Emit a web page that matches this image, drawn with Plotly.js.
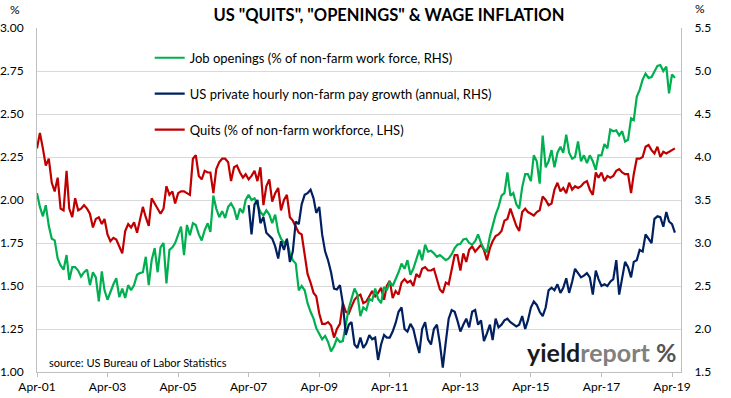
<!DOCTYPE html>
<html>
<head>
<meta charset="utf-8">
<script src="https://cdn.plot.ly/plotly-3.0.1.min.js"></script>
<style>html,body{margin:0;padding:0;background:#fff;}#chart{width:731px;height:398px;}</style>
</head>
<body>
<div id="chart"></div>
<script>
// Monthly series, first value = Apr 2001
const startMonth = '2001-04';

// Job openings (% of non-farm work force, RHS), Apr 2001 onwards
const openings = [
3.58,3.42,3.31,3.44,3.20,3.05,3.03,2.82,2.74,2.69,2.86,2.57,2.72,2.72,2.68,2.61,2.66,2.69,2.51,2.66,
2.60,2.32,2.67,2.45,2.34,2.44,2.52,2.59,2.37,2.47,2.36,2.51,2.45,2.51,2.63,2.65,2.66,2.84,2.51,2.80,
2.94,2.66,2.95,3.00,2.53,2.92,2.95,3.00,3.10,3.19,2.86,3.21,3.09,3.23,3.21,3.10,3.03,3.15,3.23,3.13,
3.55,3.40,3.30,3.37,3.29,3.42,3.46,3.40,3.27,3.40,3.35,3.50,3.56,3.50,3.52,3.44,3.36,3.32,3.38,3.33,
3.23,3.33,3.13,3.05,3.00,3.03,2.88,2.80,2.76,2.45,2.50,2.45,2.30,2.20,2.12,2.01,1.95,1.88,1.92,1.85,
1.74,1.80,1.89,1.85,1.86,2.07,2.24,2.35,2.47,2.40,2.15,2.25,2.22,2.35,2.33,2.47,2.35,2.30,2.49,2.45,
2.55,2.50,2.58,2.66,2.76,2.70,2.80,2.63,2.70,2.82,2.92,2.80,2.98,2.90,2.91,2.88,2.84,2.86,2.83,2.80,
2.82,2.87,2.94,2.98,2.99,3.04,3.05,3.00,2.98,3.02,3.10,3.00,2.93,2.90,3.08,3.20,3.33,3.42,3.55,3.58,
3.82,3.55,3.58,3.45,3.40,3.65,3.80,3.80,3.72,4.02,3.95,3.69,4.25,3.88,3.95,4.08,3.88,4.05,4.12,4.05,
4.26,4.05,3.98,4.00,4.18,3.95,4.02,3.93,4.02,3.95,3.85,4.02,4.02,4.15,4.10,4.32,4.30,4.31,4.25,4.30,
4.18,4.20,4.45,4.43,4.70,4.78,4.90,4.97,4.92,4.93,5.00,5.06,5.07,5.00,5.05,4.74,4.96,4.92
];

// US private hourly non-farm pay growth (annual, RHS), starts Apr 2007
const wageStartMonth = '2007-04';
const wages = [
3.44,3.10,3.45,3.50,3.23,3.30,3.12,3.08,3.05,2.96,2.82,3.02,2.92,3.05,2.78,2.90,3.25,3.22,3.45,3.56,
3.58,3.62,3.52,3.35,3.42,3.10,2.90,2.80,2.66,2.47,2.46,2.51,2.30,1.93,2.05,2.08,1.82,1.78,1.90,1.78,
1.83,1.93,1.88,1.90,1.64,1.82,1.93,1.90,1.90,1.97,2.07,2.20,2.25,2.00,1.97,2.06,2.00,1.85,1.72,2.00,
2.08,1.88,1.82,2.00,2.05,1.83,1.55,1.85,2.12,2.22,2.20,2.10,1.97,2.05,2.12,2.02,2.20,2.22,2.05,2.10,
1.86,1.95,2.05,1.87,2.12,2.02,2.05,2.10,2.12,2.08,2.05,2.03,2.05,2.15,2.00,2.10,2.25,2.32,2.28,2.20,
2.15,2.25,2.45,2.48,2.45,2.52,2.42,2.48,2.59,2.42,2.55,2.70,2.65,2.60,2.62,2.65,2.60,2.40,2.68,2.58,
2.50,2.52,2.50,2.55,2.58,2.80,2.40,2.60,2.78,2.72,2.60,2.78,2.80,2.92,2.90,3.10,3.05,3.00,3.28,3.31,
3.30,3.19,3.36,3.25,3.22,3.12
];

// Quits (% of non-farm workforce, LHS), Apr 2001 onwards
const quits = [
2.30,2.39,2.30,2.20,2.24,2.10,2.05,2.13,1.95,1.94,2.17,1.95,1.90,2.01,1.94,1.95,1.97,1.95,1.92,1.84,
1.89,1.90,1.86,1.89,1.80,1.76,1.78,1.77,1.73,1.69,1.82,1.86,1.84,1.87,1.81,1.89,1.96,1.90,1.85,2.01,
1.98,1.95,1.92,1.95,2.08,2.03,2.05,1.98,2.04,2.05,2.05,2.04,2.03,2.24,2.26,2.14,2.12,2.17,2.16,2.16,
2.04,2.18,2.22,2.24,2.24,2.22,2.11,2.19,2.20,2.16,2.13,2.15,2.12,2.14,2.17,2.11,2.19,1.97,2.08,2.12,
1.99,2.04,2.07,1.94,2.00,2.03,1.90,1.88,1.84,1.81,1.80,1.68,1.57,1.52,1.46,1.44,1.34,1.28,1.28,1.29,
1.27,1.20,1.25,1.28,1.40,1.35,1.34,1.38,1.42,1.44,1.45,1.40,1.41,1.44,1.47,1.44,1.46,1.49,1.42,1.50,
1.53,1.43,1.47,1.45,1.52,1.54,1.52,1.53,1.50,1.57,1.55,1.60,1.61,1.59,1.59,1.60,1.54,1.48,1.46,1.52,
1.51,1.60,1.68,1.68,1.59,1.69,1.64,1.71,1.73,1.70,1.72,1.74,1.71,1.65,1.72,1.76,1.79,1.80,1.82,1.88,
1.89,1.95,1.90,1.85,1.82,1.93,1.95,1.93,1.92,1.91,1.93,1.94,2.02,2.00,1.97,1.98,2.06,2.10,2.05,2.07,
2.04,2.10,2.06,2.08,2.07,2.08,2.10,2.11,2.06,2.03,2.16,2.13,2.16,2.11,2.14,2.13,2.14,2.17,2.18,2.16,
2.15,2.15,2.04,2.15,2.24,2.24,2.25,2.31,2.32,2.29,2.27,2.31,2.25,2.28,2.27,2.28,2.29,2.30
];

const seriesNames = [
  'Job openings (% of non-farm work force, RHS)',
  'US private hourly non-farm pay growth (annual, RHS)',
  'Quits (% of non-farm workforce, LHS)'
];
const titleText = 'US "QUITS", "OPENINGS" & WAGE INFLATION';
const sourceText = 'source: US Bureau of Labor Statistics';

function monthDates(start, n) {
  const [y0, m0] = start.split('-').map(Number);
  const out = [];
  for (let i = 0; i < n; i++) {
    const t = (m0 - 1) + i;
    const y = y0 + Math.floor(t / 12);
    const m = (t % 12) + 1;
    out.push(y + '-' + String(m).padStart(2, '0') + '-01');
  }
  return out;
}

const FONT = 'Lato, "Open Sans", sans-serif';
const traces = [
  {x: monthDates(startMonth, openings.length), y: openings, name: seriesNames[0], yaxis: 'y2',
   type: 'scatter', mode: 'lines', line: {color: '#00b050', width: 2.2}, legendgroup: 'a'},
  {x: monthDates(wageStartMonth, wages.length), y: wages, name: seriesNames[1], yaxis: 'y2',
   type: 'scatter', mode: 'lines', line: {color: '#002060', width: 2.2}, legendgroup: 'b'},
  {x: monthDates(startMonth, quits.length), y: quits, name: seriesNames[2], yaxis: 'y',
   type: 'scatter', mode: 'lines', line: {color: '#c00000', width: 2.2}, legendgroup: 'c'}
];

const layout = {
  width: 731, height: 398,
  margin: {l: 37, r: 50, t: 28, b: 26, pad: 0},
  paper_bgcolor: '#fff', plot_bgcolor: '#fff',
  font: {family: FONT, size: 12, color: '#000'},
  title: {text: '<b>' + titleText + '</b>', x: 0.532, xanchor: 'center', y: 0.962, yanchor: 'middle',
          font: {family: FONT, size: 16.5, color: '#000'}},
  showlegend: true,
  legend: {x: 0.175, xanchor: 'left', y: 0.957, yanchor: 'top', bgcolor: 'rgba(0,0,0,0)',
           font: {family: FONT, size: 13, color: '#000'}, traceorder: 'grouped', tracegroupgap: 16, itemwidth: 30},
  xaxis: {type: 'date', range: ['2001-04-01', '2019-07-03'], tick0: '2001-04-01', dtick: 'M24',
          tickformat: '%b-%y', ticks: 'outside', ticklen: 4, tickcolor: '#bfbfbf',
          showline: true, linecolor: '#bfbfbf', linewidth: 1, showgrid: false, zeroline: false,
          tickfont: {family: FONT, size: 12, color: '#000'}},
  yaxis: {range: [1, 3], dtick: 0.25, tick0: 1, tickformat: '.2f', showline: true, linecolor: '#bfbfbf',
          gridcolor: '#d9d9d9', gridwidth: 1, zeroline: false, ticks: '', ticklabelstandoff: 10,
          tickfont: {family: FONT, size: 12, color: '#000'}},
  yaxis2: {range: [1.5, 5.5], dtick: 0.5, tick0: 1.5, tickformat: '.1f', overlaying: 'y', side: 'right',
           showline: true, linecolor: '#bfbfbf', showgrid: false, zeroline: false, ticks: '', ticklabelstandoff: 10,
           tickfont: {family: FONT, size: 12, color: '#000'}},
  annotations: [
    {text: '%', xref: 'paper', yref: 'paper', x: -0.034, y: 1.055, xanchor: 'center', yanchor: 'middle', showarrow: false,
     font: {family: FONT, size: 12}},
    {text: '%', xref: 'paper', yref: 'paper', x: 1.03, y: 1.058, xanchor: 'center', yanchor: 'middle', showarrow: false,
     font: {family: FONT, size: 12}},
    {text: sourceText, xref: 'paper', yref: 'paper', x: 0.0155, y: 0.027, xanchor: 'left', yanchor: 'middle', showarrow: false,
     font: {family: FONT, size: 11, color: '#000'}},
    {text: '<b><span style="color:#1a1a1a">yield</span><span style="color:#808080">report</span> <span style="color:#555">%</span></b>',
     xref: 'paper', yref: 'paper', x: 0.996, y: 0.058, xanchor: 'right', yanchor: 'middle', showarrow: false,
     font: {family: FONT, size: 25}}
  ]
};

Plotly.newPlot('chart', traces, layout, {displayModeBar: false, staticPlot: true});
</script>
</body>
</html>
